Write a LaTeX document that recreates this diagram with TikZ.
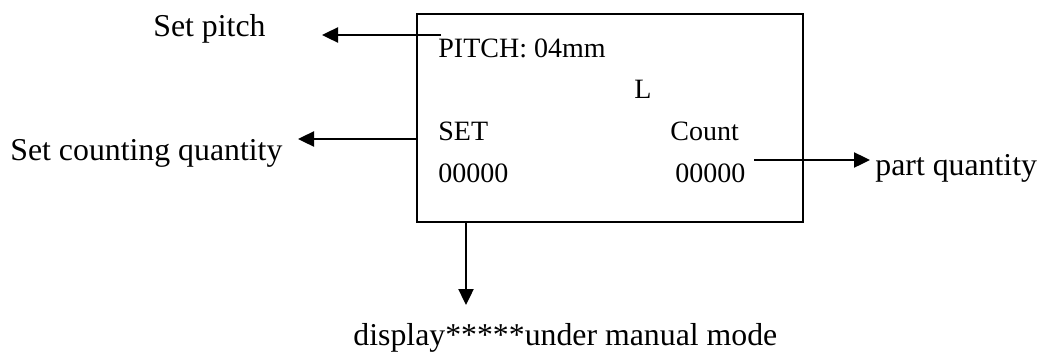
\documentclass[tikz,border=0pt]{standalone}
\usepackage{fontspec}
\setmainfont{Liberation Serif}
\usepackage{tikz}
\usetikzlibrary{arrows.meta}
\tikzstyle{lcd} = [draw, line width=1.4pt, minimum width=193pt, minimum height=104pt, inner sep=0pt]
\tikzstyle{txt} = [inner sep=0pt, anchor=base west, font=\fontsize{14}{17}\selectfont]
\tikzstyle{lbl} = [inner sep=0pt, anchor=base west, font=\fontsize{15.9}{19}\selectfont]
\tikzstyle{pointer} = [line width=1.2pt, -{Triangle[length=8pt,width=7.5pt]}]

\begin{document}
\begin{tikzpicture}[x=0.5pt, y=-0.5pt]
	\useasboundingbox (0,0) rectangle (1038,354);
	\node[lcd] (lcd) at (610,118) {};
	\node[txt] (pitch) at (438,57) {PITCH: 04mm};
	\node[txt] (mode) at (634,98) {L};
	\node[txt] (set) at (438,140) {SET};
	\node[txt] (count) at (670,140) {Count};
	\node[txt] (setval) at (438,182) {00000};
	\node[txt] (countval) at (675,182) {00000};
	\node[lbl] (setpitch) at (153,36) {Set pitch};
	\node[lbl] (setqty) at (10,160) {Set counting quantity};
	\node[lbl] (partqty) at (875,175) {part quantity};
	\node[lbl] (display) at (353,345) {display*****under manual mode};
	\coordinate (pitchfrom) at (441,35);
	\coordinate (pitchto) at (322,35);
	\coordinate (setfrom) at (417,139);
	\coordinate (setto) at (298,139);
	\coordinate (partfrom) at (754,160);
	\coordinate (partto) at (870,160);
	\coordinate (dispfrom) at (466,222);
	\coordinate (dispto) at (466,305);
	\draw[pointer] (pitchfrom) -- (pitchto);
	\draw[pointer] (setfrom) -- (setto);
	\draw[pointer] (partfrom) -- (partto);
	\draw[pointer] (dispfrom) -- (dispto);
\end{tikzpicture}
\end{document}
